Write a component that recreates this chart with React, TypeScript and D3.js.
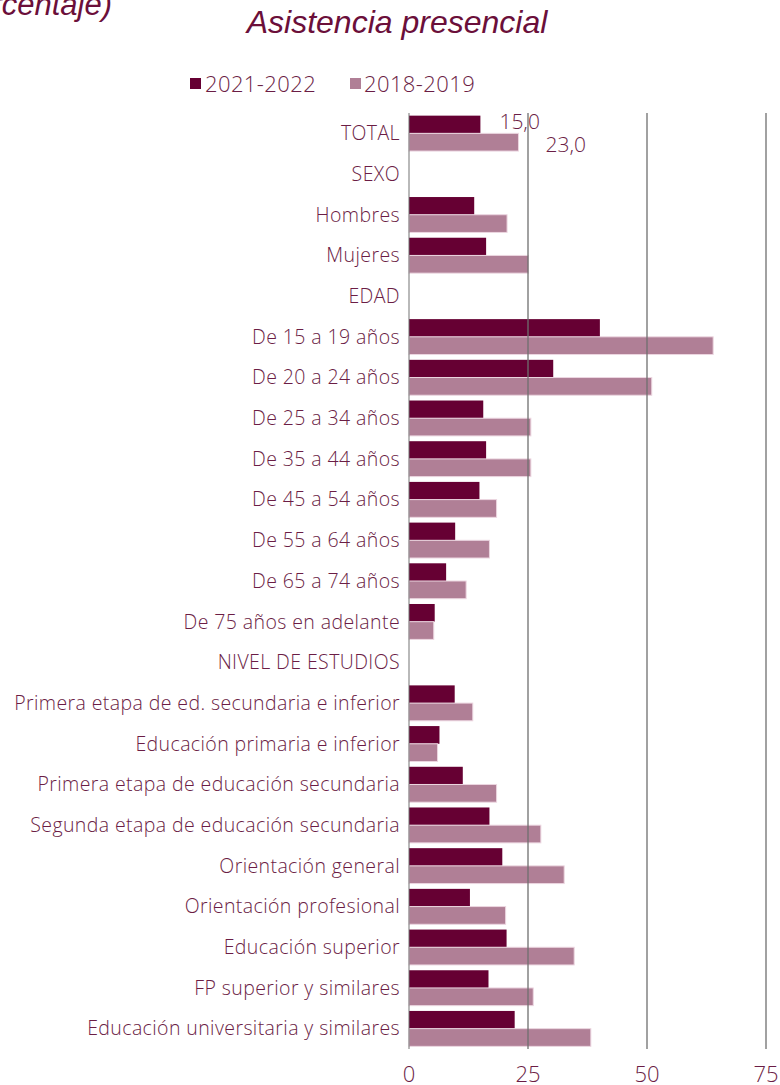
import React from "react";
import * as d3 from "d3";

const categories = [
  "TOTAL",
  "SEXO",
  "Hombres",
  "Mujeres",
  "EDAD",
  "De 15 a 19 años",
  "De 20 a 24 años",
  "De 25 a 34 años",
  "De 35 a 44 años",
  "De 45 a 54 años",
  "De 55 a 64 años",
  "De 65 a 74 años",
  "De 75 años en adelante",
  "NIVEL DE ESTUDIOS",
  "Primera etapa de ed. secundaria e inferior",
  "Educación primaria e inferior",
  "Primera etapa de educación secundaria",
  "Segunda etapa de educación secundaria",
  "Orientación general",
  "Orientación profesional",
  "Educación superior",
  "FP superior y similares",
  "Educación universitaria y similares",
];

// null = heading row, no bar
const values2021 = [
  15.0, null, 13.7, 16.2, null, 40.1, 30.3, 15.6, 16.2, 14.8, 9.7, 7.8, 5.4,
  null, 9.6, 6.4, 11.3, 16.9, 19.6, 12.8, 20.5, 16.7, 22.2,
];
const values2018 = [
  23.0, null, 20.6, 25.1, null, 63.9, 51.0, 25.6, 25.6, 18.4, 16.9, 12.0, 5.2,
  null, 13.4, 6.0, 18.4, 27.7, 32.6, 20.3, 34.7, 26.1, 38.2,
];

const seriesNames = ["2021-2022", "2018-2019"];
const seriesColors = ["#660033", "#b07f96"];
const ticks = [0, 25, 50, 75];

const W = 780;
const H = 1085;
const textColor = "#6b1d45";
const font = "'Open Sans', Lato, sans-serif";
const titleFont = "'Liberation Sans', Arial, sans-serif";

export default function App() {
  const x = d3.scaleLinear().domain([0, 75]).range([409, 766]);
  const y = d3
    .scaleBand<string>()
    .domain(categories)
    .range([113, 1049])
    .paddingInner(0.13)
    .paddingOuter(0.065);
  const bh = y.bandwidth() / 2;
  const series = [values2021, values2018];
  const fmt = (v: number) => d3.format(".1f")(v).replace(".", ",");

  return (
    <svg
      width={W}
      height={H}
      style={{ position: "absolute", left: 0, top: 0, background: "#fff" }}
      fontFamily={font}
    >
      {/* subtitle, cut at the left edge as in the source */}
      <text x={112} y={15} textAnchor="end" fontFamily={titleFont} fontStyle="italic" fontSize={31} fill="#6b0f3a">
        (porcentaje)
      </text>
      <text x={397} y={33} textAnchor="middle" fontFamily={titleFont} fontStyle="italic" fontSize={32} fill="#6b0f3a">
        Asistencia presencial
      </text>

      {/* legend */}
      <g fontSize={22} fontWeight={300} letterSpacing={0.4} fill={textColor}>
        <rect x={190} y={78} width={11} height={11} fill={seriesColors[0]} />
        <text x={205} y={84} dy="0.35em">
          {seriesNames[0]}
        </text>
        <rect x={350} y={78} width={11} height={11} fill={seriesColors[1]} />
        <text x={364} y={84} dy="0.35em">
          {seriesNames[1]}
        </text>
      </g>

      {/* bars */}
      {categories.map((c, i) => (
        <g key={c}>
          {series.map((vals, s) => {
            const v = vals[i];
            if (v == null) return null;
            return (
              <rect
                key={s}
                x={x(0)}
                y={(y(c) as number) + s * bh}
                width={x(v) - x(0)}
                height={bh}
                fill={seriesColors[s]}
                stroke={s === 1 ? "#ecd6e0" : "none"}
                strokeWidth={1}
              />
            );
          })}
          <text
            x={x(0) - 9}
            y={(y(c) as number) + y.bandwidth() / 2}
            dy="0.35em"
            textAnchor="end"
            fontSize={19.5}
            fontWeight={300}
            letterSpacing={0.4}
            fill={textColor}
          >
            {c}
          </text>
        </g>
      ))}

      {/* grid lines drawn over the bars */}
      {ticks.map((t) => (
        <line
          key={t}
          x1={x(t)}
          x2={x(t)}
          y1={113}
          y2={1049}
          stroke="#6e6e6e"
          strokeOpacity={0.65}
          strokeWidth={t === 0 ? 1.5 : 2}
        />
      ))}
      {ticks.map((t) => (
        <text key={t} x={x(t)} y={1074} dy="0.35em" textAnchor="middle" fontSize={22} fontWeight={300} fill={textColor}>
          {t}
        </text>
      ))}

      {/* data labels for TOTAL */}
      <text x={x(values2021[0] as number) + 19} y={122} dy="0.35em" fontSize={21} fontWeight={300} fill={textColor}>
        {fmt(values2021[0] as number)}
      </text>
      <text x={x(values2018[0] as number) + 27} y={145} dy="0.35em" fontSize={21} fontWeight={300} fill={textColor}>
        {fmt(values2018[0] as number)}
      </text>
    </svg>
  );
}
